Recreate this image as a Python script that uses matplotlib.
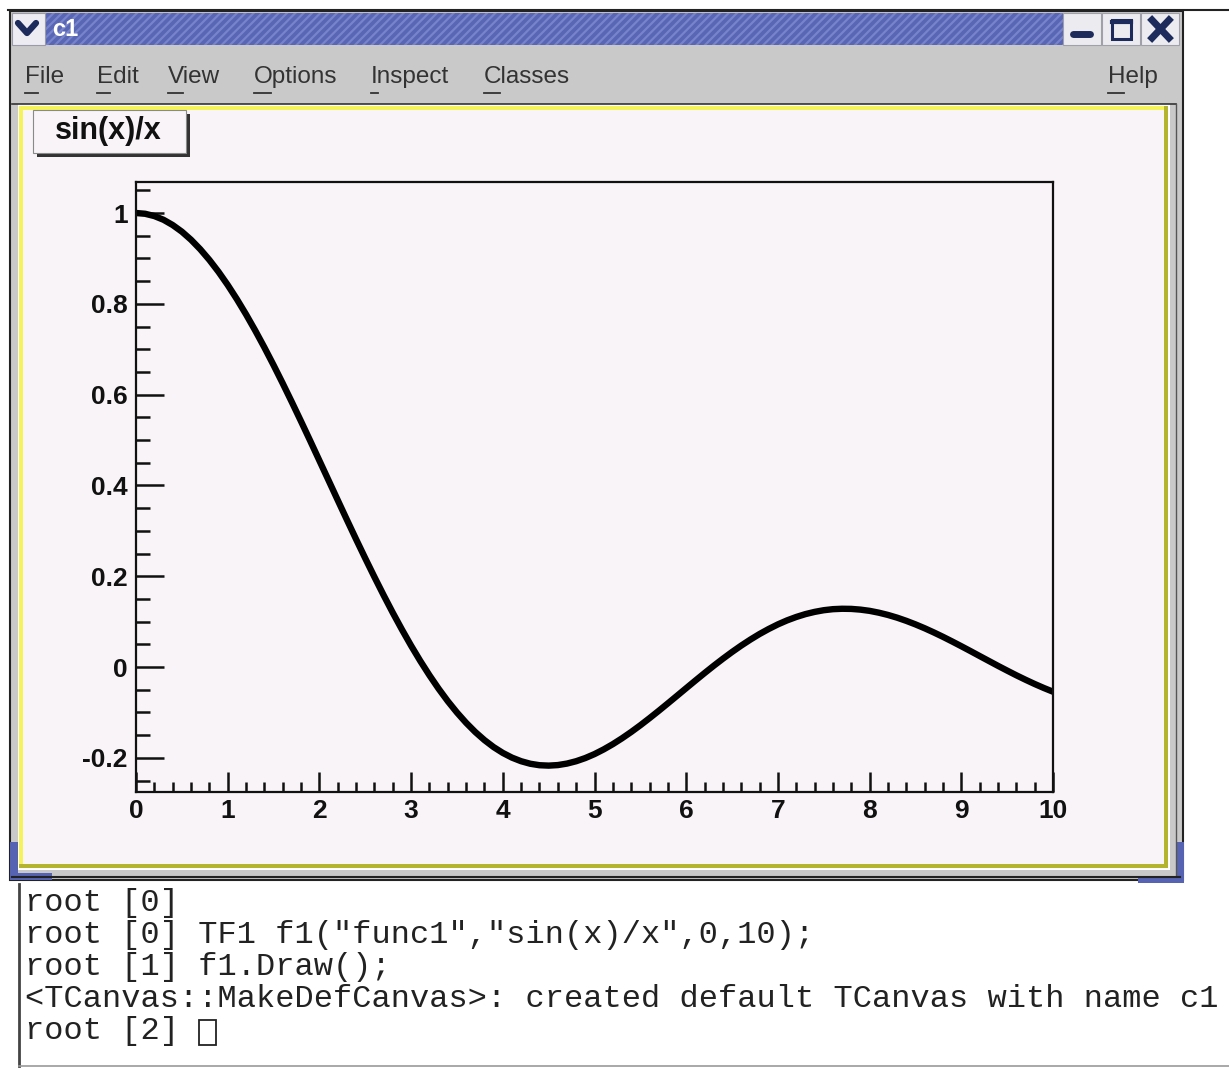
import matplotlib
matplotlib.use("Agg")
import matplotlib.pyplot as plt
from matplotlib.patches import Rectangle
from matplotlib.ticker import MultipleLocator, FixedLocator

x_vals = [i / 10 for i in range(101)]
y_vals = [1.0, 0.9983, 0.9933, 0.9851, 0.9735, 0.9589, 0.9411, 0.9203, 0.8967, 0.8704,
          0.8415, 0.8102, 0.7767, 0.7412, 0.7039, 0.665, 0.6247, 0.5833, 0.541, 0.4981,
          0.4546, 0.4111, 0.3675, 0.3242, 0.2814, 0.2394, 0.1983, 0.1583, 0.1196, 0.0825,
          0.047, 0.0134, -0.0182, -0.0478, -0.0752, -0.1002, -0.1229, -0.1432, -0.161, -0.1764,
          -0.1892, -0.1996, -0.2075, -0.2131, -0.2163, -0.2172, -0.216, -0.2127, -0.2075, -0.2005,
          -0.1918, -0.1815, -0.1699, -0.157, -0.1431, -0.1283, -0.1127, -0.0966, -0.0801, -0.0634,
          -0.0466, -0.0299, -0.0134, 0.0027, 0.0182, 0.0331, 0.0472, 0.0604, 0.0727, 0.0838,
          0.0939, 0.1027, 0.1102, 0.1165, 0.1214, 0.1251, 0.1274, 0.1283, 0.128, 0.1264,
          0.1237, 0.1197, 0.1147, 0.1087, 0.1017, 0.0939, 0.0854, 0.0762, 0.0665, 0.0563,
          0.0458, 0.0351, 0.0242, 0.0134, 0.0026, -0.0079, -0.0182, -0.028, -0.0374, -0.0462,
          -0.0544]

x_ticks = [0, 1, 2, 3, 4, 5, 6, 7, 8, 9, 10]
x_tick_labels = ["0", "1", "2", "3", "4", "5", "6", "7", "8", "9", "10"]
y_ticks = [-0.2, 0.0, 0.2, 0.4, 0.6, 0.8, 1.0]
y_tick_labels = ["-0.2", "0", "0.2", "0.4", "0.6", "0.8", "1"]

menu_items = ["File", "Edit", "View", "Options", "Inspect", "Classes"]
console_lines = [
    "root [0]",
    'root [0] TF1 f1("func1","sin(x)/x",0,10);',
    "root [1] f1.Draw();",
    "<TCanvas::MakeDefCanvas>: created default TCanvas with name c1",
    "root [2] ",
]

W, H = 1229, 1070
canvas_bg = "#f8f4f8"
fig = plt.figure(figsize=(W / 100, H / 100), dpi=100)
fig.patch.set_facecolor("white")

# pixel-space layer for the window decorations
bg = fig.add_axes([0, 0, 1, 1])
bg.set_xlim(0, W)
bg.set_ylim(H, 0)
bg.axis("off")


def box(x0, y0, x1, y1, **kw):
    bg.add_patch(Rectangle((x0, y0), x1 - x0, y1 - y0, **kw))


# window frame
box(10, 11, 1183, 880, facecolor="#c9c9c9", edgecolor="#222222", lw=1.5)
bg.plot([8, W], [10, 10], color="#222222", lw=1.5)
# title bar
plt.rcParams["hatch.linewidth"] = 1.6
box(45, 13, 1063, 45, facecolor="#5866b4", edgecolor="#7784cb", hatch="////", lw=0)
box(12, 13, 45, 45, facecolor="#ececf2", edgecolor="#9a9aa8", lw=0.8)
bg.plot([18, 27, 36], [23, 33, 23], color="#1c2b5c", lw=4.5, solid_capstyle="round")
bg.text(52, 30, "c1", color="white", fontsize=17, fontweight="bold",
        family="Liberation Sans", va="center", ha="left")
# title bar buttons
for bx in [1063, 1102, 1141]:
    box(bx, 13, bx + 38, 45, facecolor="#ececf0", edgecolor="#a0a0aa", lw=0.8)
bg.plot([1073, 1090], [34, 34], color="#1c2b5c", lw=5, solid_capstyle="round")
box(1112, 20, 1131, 39, facecolor="none", edgecolor="#1c2b5c", lw=2.2)
bg.plot([1112, 1131], [22, 22], color="#1c2b5c", lw=3)
bg.plot([1152, 1169], [20, 38], color="#1c2b5c", lw=5)
bg.plot([1152, 1169], [38, 20], color="#1c2b5c", lw=5)

# menu bar
menu_x = [25, 97, 168, 254, 371, 484]
under_w = [13, 13, 15, 17, 7, 16]
for mx, label, uw in zip(menu_x, menu_items, under_w):
    bg.text(mx, 77, label, fontsize=17.5, color="#333333", family="Liberation Sans",
            va="center", ha="left")
    bg.plot([mx, mx + uw], [93, 93], color="#333333", lw=1.3)
bg.text(1108, 77, "Help", fontsize=17.5, color="#333333", family="Liberation Sans",
        va="center", ha="left")
bg.plot([1108, 1124], [93, 93], color="#333333", lw=1.3)

# canvas with bevelled yellow border
box(18, 104, 1170, 870, facecolor="#ffffff", edgecolor="none")
box(19, 106, 1168, 868, facecolor="#b4b42e", edgecolor="none")
box(19, 106, 1164, 864, facecolor="#f4f45a", edgecolor="none")
box(23, 110, 1164, 864, facecolor=canvas_bg, edgecolor="none")
bg.plot([12, 1176], [104, 104], color="#333333", lw=1.2)
bg.plot([1176, 1176], [104, 876], color="#555555", lw=1)
bg.plot([12, 1180], [877, 877], color="#222222", lw=1.5)
# blue resize handles
box(10, 842, 18, 880, facecolor="#5563b2", edgecolor="none")
box(10, 873, 52, 880, facecolor="#5563b2", edgecolor="none")
box(1177, 842, 1184, 883, facecolor="#5563b2", edgecolor="none")
box(1138, 876, 1184, 883, facecolor="#5563b2", edgecolor="none")

# pave with the function title
box(37, 114, 190, 157, facecolor="#333333", edgecolor="none")
box(33, 110, 186, 153, facecolor=canvas_bg, edgecolor="#8a8a8a", lw=0.8)
bg.text(108, 131, "sin(x)/x", fontsize=22, fontweight="bold", family="Liberation Sans",
        va="center", ha="center", color="#111111")

# console below the canvas
box(0, 884, W, H, facecolor="white", edgecolor="none")
bg.plot([19, 19], [884, 1066], color="#444444", lw=2)
bg.plot([19, W], [1066, 1066], color="#999999", lw=1.2)
for i, line in enumerate(console_lines):
    bg.text(25, 903 + 32 * i, line, fontsize=23, family="Liberation Mono",
            color="#222222", va="center", ha="left")
box(199, 1020, 216, 1045, facecolor="white", edgecolor="#222222", lw=1.3)

# the function plot itself
ax = fig.add_axes([136 / W, (H - 792) / H, 917 / W, 610 / H])
ax.set_zorder(3)
ax.set_facecolor(canvas_bg)
ax.plot(x_vals, y_vals, color="black", lw=4.6, solid_capstyle="round",
        solid_joinstyle="round")
ax.set_xlim(0, 10)
ax.set_ylim(-0.2753, 1.0683)

ax.xaxis.set_major_locator(FixedLocator(x_ticks))
ax.set_xticklabels(x_tick_labels)
ax.xaxis.set_minor_locator(MultipleLocator(0.2))
ax.yaxis.set_major_locator(FixedLocator(y_ticks))
ax.set_yticklabels(y_tick_labels)
ax.yaxis.set_minor_locator(MultipleLocator(0.05))

for s in ax.spines.values():
    s.set_linewidth(1.6)
    s.set_color("#111111")
ax.tick_params(axis="x", which="major", direction="in", length=14.5, width=1.8, pad=5,
               top=False, color="#111111")
ax.tick_params(axis="x", which="minor", direction="in", length=7, width=1.8, top=False,
               color="#111111")
ax.tick_params(axis="y", which="major", direction="in", length=20, width=1.8, pad=6,
               right=False, color="#111111")
ax.tick_params(axis="y", which="minor", direction="in", length=10, width=1.8, right=False,
               color="#111111")
for lab in ax.get_xticklabels() + ax.get_yticklabels():
    lab.set_family("Liberation Sans")
    lab.set_fontweight("bold")
    lab.set_fontsize(19)
    lab.set_color("#111111")

fig.savefig("out.png", dpi=100)
